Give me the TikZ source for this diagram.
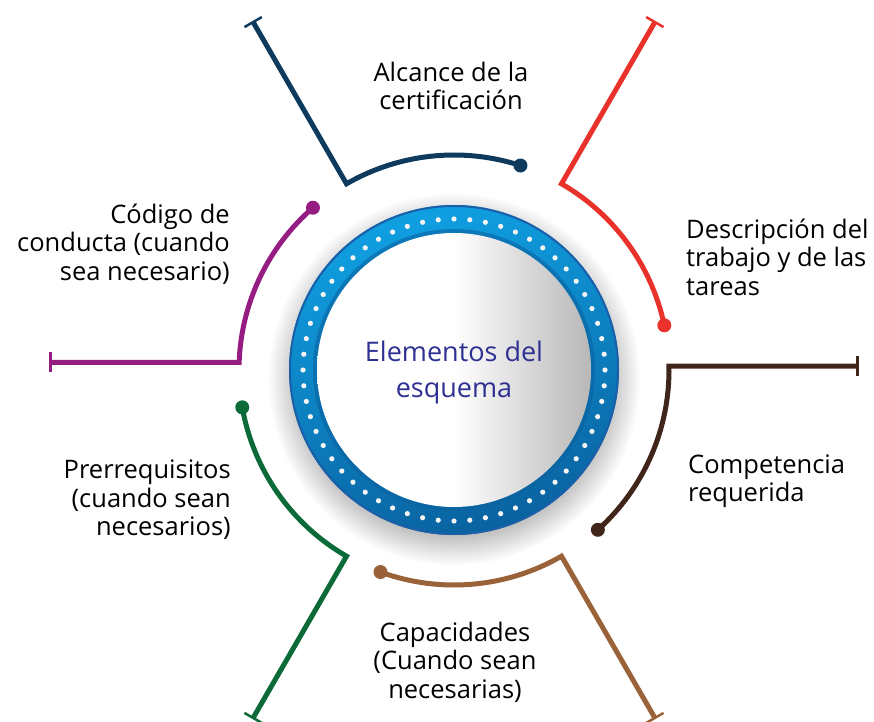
\documentclass[tikz,border=0pt]{standalone}
\usepackage{fontspec}
\setmainfont{Open Sans}
\usetikzlibrary{arrows.meta,fadings}

\definecolor{alcance}{HTML}{0E3A5D}
\definecolor{descripcion}{HTML}{E8322B}
\definecolor{competencia}{HTML}{40261A}
\definecolor{capacidades}{HTML}{9A6238}
\definecolor{prerrequisitos}{HTML}{0B6A37}
\definecolor{codigo}{HTML}{951C81}
\definecolor{ringlight}{HTML}{0FA0E2}
\definecolor{ringdark}{HTML}{0A62A0}
\definecolor{ringedge}{HTML}{1A5FA8}
\definecolor{centre}{HTML}{2E3192}

\pgfdeclarehorizontalshading{discshade}{100bp}{color(0bp)=(white); color(25bp)=(white); color(50bp)=(white); color(75bp)=(black!28); color(100bp)=(black!28)}

\begin{document}
\begin{tikzpicture}[x=1pt, y=1pt,
    branch/.style={line width=5pt, line join=miter, -{Bar[width=20pt, line width=2.5pt]}},
    itemtext/.style={inner sep=0pt, font=\fontsize{25.5}{28.5}\selectfont, text=black},
    ]
    \useasboundingbox (0,0) rectangle (874,721);
    \coordinate (C) at (454,351);

    % circle in the middle
    \fill[black, opacity=.3, path fading=circle with fuzzy edge 20 percent] ([yshift=-9]C) circle[radius=186];
    \shade[top color=ringlight, bottom color=ringdark, shading angle=15] (C) circle[radius=165];
    \draw[ringedge, line width=2pt] (C) circle[radius=164];
    \draw[ringdark, line width=4pt, opacity=.6] (C) circle[radius=139];
    \foreach \a in {0,6,...,354}
        \fill[white!92!gray] ([shift={(\a:151)}]C) circle[radius=2.6];
    \shade[shading=discshade] (C) circle[radius=137];
    \node[inner sep=0pt, align=center, text=centre, font=\fontsize{27}{36}\selectfont] (centro) at (454,349) {Elementos del\\esquema};

    % Alcance
    \coordinate (alcDot) at ([shift={(72:215)}]C);
    \coordinate (alcEnd) at ([shift={(120:403)}]C);
    \draw[branch, alcance] (alcDot) arc[start angle=72, end angle=120, radius=215] -- (alcEnd);
    \fill[alcance] (alcDot) circle[radius=7];

    % Descripcion
    \coordinate (desDot) at ([shift={(12:215)}]C);
    \coordinate (desEnd) at ([shift={(60:403)}]C);
    \draw[branch, descripcion] (desDot) arc[start angle=12, end angle=60, radius=215] -- (desEnd);
    \fill[descripcion] (desDot) circle[radius=7];

    % Competencia
    \coordinate (comDot) at ([shift={(-48:215)}]C);
    \coordinate (comCorner) at ([shift={(1:215)}]C);
    \coordinate (comEnd) at ([xshift=190]comCorner);
    \draw[branch, competencia] (comDot) arc[start angle=-48, end angle=1, radius=215] -- (comEnd);
    \fill[competencia] (comDot) circle[radius=7];

    % Capacidades
    \coordinate (capDot) at ([shift={(-110:215)}]C);
    \coordinate (capEnd) at ([shift={(-60:403)}]C);
    \draw[branch, capacidades] (capDot) arc[start angle=-110, end angle=-60, radius=215] -- (capEnd);
    \fill[capacidades] (capDot) circle[radius=7];

    % Prerrequisitos
    \coordinate (preDot) at ([shift={(-170:215)}]C);
    \coordinate (preEnd) at ([shift={(-120:403)}]C);
    \draw[branch, prerrequisitos] (preDot) arc[start angle=-170, end angle=-120, radius=215] -- (preEnd);
    \fill[prerrequisitos] (preDot) circle[radius=7];

    % Codigo
    \coordinate (codDot) at ([shift={(131:215)}]C);
    \coordinate (codCorner) at ([shift={(178:215)}]C);
    \coordinate (codEnd) at ([xshift=-190]codCorner);
    \draw[branch, codigo] (codDot) arc[start angle=131, end angle=178, radius=215] -- (codEnd);
    \fill[codigo] (codDot) circle[radius=7];

    % texts
    \node[itemtext, align=center] (alcText) at (451,635) {Alcance de la\\certificación};
    \node[itemtext, align=left, anchor=west] (desText) at (686,464) {Descripción del\\trabajo y de las\\tareas};
    \node[itemtext, align=left, anchor=west] (comText) at (688,240) {Competencia\\requerida};
    \node[itemtext, align=center] (capText) at (455,59) {Capacidades\\(Cuando sean\\necesarias)};
    \node[itemtext, align=right, anchor=east] (preText) at (231,221) {Prerrequisitos\\(cuando sean\\necesarios)};
    \node[itemtext, align=right, anchor=east] (codText) at (230,477) {Código de\\conducta (cuando\\sea necesario)};
\end{tikzpicture}
\end{document}
